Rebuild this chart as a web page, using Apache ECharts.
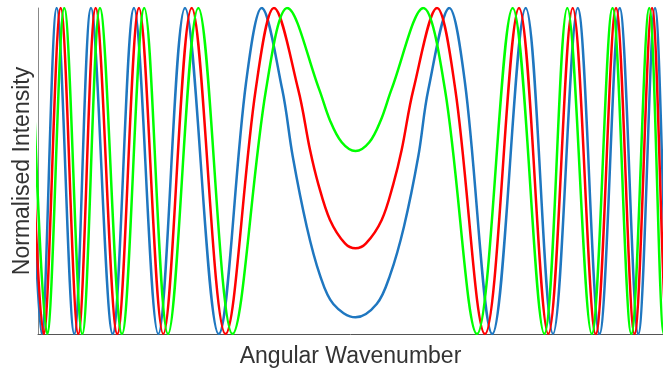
<!DOCTYPE html>
<html>
<head>
<meta charset="utf-8">
<script src="https://cdn.jsdelivr.net/npm/echarts@6/dist/echarts.min.js"></script>
<style>
  html, body { margin: 0; padding: 0; background: #fff; }
  #chart { width: 663px; height: 373px; }
</style>
</head>
<body>
<div id="chart"></div>
<script>
// wavenumber (arbitrary units, 0 = left axis) and normalised intensity
// blue
var blueK = [-10.3, 3.7, 18.7, 36.3, 53, 74.7, 96, 120.3, 147, 180.7, 208, 223.7, 244.3, 254.7, 268.7, 282, 295.3,
  317.5, 338.7, 352, 366, 380.3, 390.3, 411.3, 427, 454.3, 487.7, 515, 539.7, 561.5, 581.7, 600.3, 617, 631.3, 645]
var blueI = [1, 0, 1, 0, 1, 0, 1, 0, 1, 0, 0.77, 1, 0.749, 0.545, 0.33, 0.18, 0.092,
  0.051, 0.092, 0.18, 0.33, 0.545, 0.749, 1, 0.77, 0, 1, 0, 1, 0, 1, 0, 1, 0, 1]
// red
var redK = [-10.3, 5.7, 22.7, 40.3, 57.7, 79.3, 101, 125.3, 153.7, 187.5, 217.7, 236, 260.3, 272, 280.3, 292, 307,
  317.5, 328, 343.7, 355.3, 363.7, 375.3, 399, 417.3, 447, 481, 510.3, 534.7, 557.7, 578, 596.5, 614, 629.3, 644]
var redI = [1, 0, 1, 0, 1, 0, 1, 0, 1, 0, 0.75, 1, 0.749, 0.565, 0.46, 0.35, 0.278,
  0.263, 0.278, 0.35, 0.46, 0.565, 0.749, 1, 0.75, 0, 1, 0, 1, 0, 1, 0, 1, 0, 1]
// green
var greenK = [-7.3, 9.2, 26.3, 44.3, 62, 84, 106.3, 130, 160.3, 194.5, 228, 249.3, 281, 292, 303.7,
  317.5, 331.3, 342.7, 353.7, 385.3, 407, 439, 474.7, 506.3, 529.3, 553.7, 574.5, 593.3, 611.2, 625.8, 640]
var greenI = [1, 0, 1, 0, 1, 0, 1, 0, 1, 0, 0.749, 1, 0.752, 0.655, 0.588,
  0.561, 0.588, 0.655, 0.752, 1, 0.749, 0, 1, 0, 1, 0, 1, 0, 1, 0, 1]

function pairs(k, v) {
  return k.map(function(x, i) { return [x, v[i]] })
}

function curve(name, color, k, v) {
  return {
    name: name,
    type: 'line',
    data: pairs(k, v),
    smooth: 0.35,
    showSymbol: false,
    silent: true,
    clip: true,
    lineStyle: { color: color, width: 2.5 },
    animation: false
  }
}

var chart = echarts.init(document.getElementById('chart'))
chart.setOption({
  backgroundColor: '#fff',
  grid: { left: 38, right: 0, top: 8, bottom: 38 },
  xAxis: {
    type: 'value',
    min: 0,
    max: 625,
    name: 'Angular Wavenumber',
    nameLocation: 'middle',
    nameGap: 11,
    nameTextStyle: { fontFamily: 'Liberation Sans, Arial, sans-serif', fontSize: 23, color: '#333' },
    axisLine: { show: true, lineStyle: { color: '#555', width: 1 } },
    axisTick: { show: false },
    axisLabel: { show: false },
    splitLine: { show: false }
  },
  yAxis: {
    type: 'value',
    min: 0,
    max: 1,
    name: 'Normalised Intensity',
    nameLocation: 'middle',
    nameGap: 4,
    nameTextStyle: { fontFamily: 'Liberation Sans, Arial, sans-serif', fontSize: 23, color: '#333' },
    axisLine: { show: true, lineStyle: { color: '#888', width: 1 } },
    axisTick: { show: false },
    axisLabel: { show: false },
    splitLine: { show: false }
  },
  series: [
    curve('blue', '#1f77c0', blueK, blueI),
    curve('red', '#ff0000', redK, redI),
    curve('green', '#00ff00', greenK, greenI)
  ]
})
</script>
</body>
</html>
